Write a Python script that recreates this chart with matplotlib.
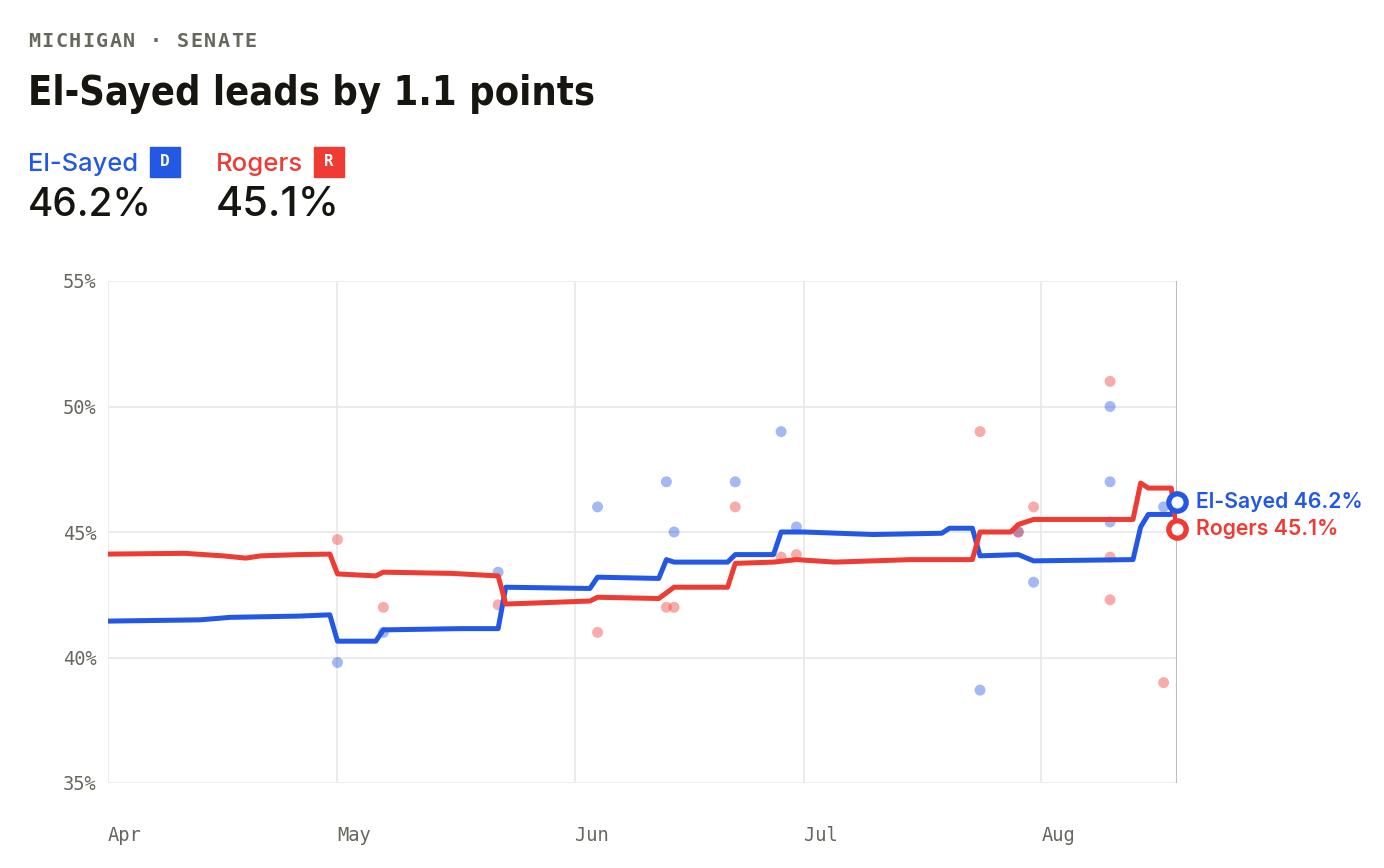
import matplotlib
matplotlib.use("Agg")
import matplotlib.pyplot as plt
import pandas as pd
from matplotlib import font_manager
from matplotlib.font_manager import FontProperties
from matplotlib.patches import Rectangle

# ---------------- data ----------------
state_label = "MICHIGAN · SENATE"
title = "El-Sayed leads by 1.1 points"
cand_names = ["El-Sayed", "Rogers"]
cand_party = ["D", "R"]
cand_final = [46.2, 45.1]

blue_dates = ["2026-04-01", "2026-04-13", "2026-04-17", "2026-04-26", "2026-04-30",
              "2026-05-01", "2026-05-06", "2026-05-07", "2026-05-17", "2026-05-22",
              "2026-05-23", "2026-06-03", "2026-06-04", "2026-06-12", "2026-06-13",
              "2026-06-14", "2026-06-21", "2026-06-22", "2026-06-27", "2026-06-28",
              "2026-07-01", "2026-07-10", "2026-07-19", "2026-07-20", "2026-07-23",
              "2026-07-24", "2026-07-29", "2026-07-31", "2026-08-13", "2026-08-14",
              "2026-08-15", "2026-08-18 00:00", "2026-08-18 18:00"]
blue_vals = [41.45, 41.5, 41.6, 41.65, 41.7,
             40.65, 40.65, 41.1, 41.15, 41.15,
             42.8, 42.75, 43.2, 43.15, 43.9,
             43.8, 43.8, 44.1, 44.1, 45.0,
             45.0, 44.9, 44.95, 45.15, 45.15,
             44.05, 44.1, 43.85, 43.9, 45.2,
             45.7, 45.7, 46.2]

red_dates = ["2026-04-01", "2026-04-11", "2026-04-16", "2026-04-19", "2026-04-21",
             "2026-04-26", "2026-04-30", "2026-05-01", "2026-05-06", "2026-05-07",
             "2026-05-16", "2026-05-22", "2026-05-23", "2026-06-03", "2026-06-04",
             "2026-06-12", "2026-06-14", "2026-06-21", "2026-06-22", "2026-06-27",
             "2026-06-30", "2026-07-05", "2026-07-15", "2026-07-23", "2026-07-24",
             "2026-07-28", "2026-07-29", "2026-07-31", "2026-08-13", "2026-08-14",
             "2026-08-15", "2026-08-18 00:00", "2026-08-18 18:00"]
red_vals = [44.12, 44.15, 44.05, 43.96, 44.05,
            44.1, 44.12, 43.33, 43.25, 43.4,
            43.35, 43.25, 42.13, 42.25, 42.4,
            42.35, 42.8, 42.8, 43.75, 43.8,
            43.9, 43.8, 43.9, 43.9, 45.0,
            45.0, 45.3, 45.5, 45.5, 46.95,
            46.75, 46.75, 45.1]

blue_poll_dates = ["2026-05-01", "2026-05-07", "2026-05-22", "2026-06-04", "2026-06-13",
                   "2026-06-14", "2026-06-22", "2026-06-28", "2026-06-30", "2026-07-24",
                   "2026-07-29", "2026-07-31", "2026-08-10", "2026-08-10", "2026-08-10",
                   "2026-08-17"]
blue_poll_vals = [39.8, 41.0, 43.4, 46.0, 47.0,
                  45.0, 47.0, 49.0, 45.2, 38.7,
                  45.0, 43.0, 50.0, 47.0, 45.4,
                  46.0]
red_poll_dates = ["2026-05-01", "2026-05-07", "2026-05-22", "2026-06-04", "2026-06-13",
                  "2026-06-14", "2026-06-22", "2026-06-28", "2026-06-30", "2026-07-24",
                  "2026-07-29", "2026-07-31", "2026-08-10", "2026-08-10", "2026-08-10",
                  "2026-08-17"]
red_poll_vals = [44.7, 42.0, 42.1, 41.0, 42.0,
                 42.0, 46.0, 44.0, 44.1, 49.0,
                 45.0, 46.0, 51.0, 44.0, 42.3,
                 39.0]

month_ticks = ["2026-04-01", "2026-05-01", "2026-06-01", "2026-07-01", "2026-08-01"]
month_labels = ["Apr", "May", "Jun", "Jul", "Aug"]
y_ticks = [35, 40, 45, 50, 55]

# ---------------- fonts ----------------
ttf = font_manager.fontManager.ttflist
names = {f.name for f in ttf}
SANS = 'Inter' if 'Inter' in names else ('Roboto' if 'Roboto' in names else 'DejaVu Sans')
MONO = 'DejaVu Sans Mono'


def _is_cond(f):
    n = (f.name + " " + f.fname).lower()
    return ("narrow" in n or "condensed" in n or
            str(f.stretch) in ("condensed", "semi-condensed", "extra-condensed"))


def _wnum(w):
    if isinstance(w, (int, float)):
        return w
    return {"bold": 700, "heavy": 800, "black": 900, "semibold": 600,
            "demibold": 600}.get(str(w).lower(), 400)


conds = [f for f in ttf if _is_cond(f) and "italic" not in f.fname.lower()
         and "oblique" not in f.fname.lower()]
conds.sort(key=lambda f: (abs(_wnum(f.weight) - 700),
                          0 if "liberation" in f.fname.lower() else 1))
if conds:
    TITLE_FP = FontProperties(fname=conds[0].fname)
else:
    TITLE_FP = FontProperties(family="Roboto", weight="bold")

# ---------------- style ----------------
BLUE = "#2358E6"
RED = "#EE3B33"
INK = "#161510"
GRAY = "#67665f"
GRID = "#e9e9e9"

W, H = 1384, 868
fig = plt.figure(figsize=(W / 100, H / 100), dpi=100)
fig.patch.set_facecolor("white")
renderer = fig.canvas.get_renderer()


def fx(px):
    return px / W


def fy(py):
    return 1 - py / H


def todt(seq):
    return pd.to_datetime(seq, format="mixed")


def fit_text(x, y, s, width_px, size0, **kw):
    t = fig.text(fx(x), fy(y), s, fontsize=size0, **kw)
    w = t.get_window_extent(renderer=renderer).width
    if w > 0:
        t.set_fontsize(size0 * width_px / w)
    return t


ax = fig.add_axes([fx(108), fy(783), fx(1177) - fx(108), fy(281) - fy(783)])
ax.set_facecolor("white")

bd = todt(blue_dates)
rd = todt(red_dates)
x_end = pd.Timestamp("2026-08-18 18:00")

ax.scatter(todt(blue_poll_dates), blue_poll_vals, s=62, color=BLUE, alpha=0.42,
           edgecolors="none", zorder=2)
ax.scatter(todt(red_poll_dates), red_poll_vals, s=62, color=RED, alpha=0.42,
           edgecolors="none", zorder=2)

ax.plot(bd, blue_vals, color=BLUE, lw=3.6, solid_joinstyle="round",
        solid_capstyle="round", zorder=3)
ax.plot(rd, red_vals, color=RED, lw=3.6, solid_joinstyle="round",
        solid_capstyle="round", zorder=4)

ax.plot([bd[-1]], [blue_vals[-1]], marker="o", ms=12.5, mfc="white", mec=BLUE, mew=3.8,
        zorder=6, clip_on=False)
ax.plot([rd[-1]], [red_vals[-1]], marker="o", ms=12.5, mfc="white", mec=RED, mew=3.8,
        zorder=6, clip_on=False)

# end labels sized so the El-Sayed label spans ~167 px
probe = fig.text(0, 0, f"{cand_names[0]} {cand_final[0]}%", fontsize=15,
                 fontfamily=SANS, fontweight="semibold")
pw = probe.get_window_extent(renderer=renderer).width
probe.remove()
end_size = 15 * 167 / pw if pw > 0 else 15
for name, val, d, y, c in [(cand_names[0], cand_final[0], bd[-1], blue_vals[-1], BLUE),
                           (cand_names[1], cand_final[1], rd[-1], red_vals[-1], RED)]:
    ax.annotate(f"{name} {val}%", (d, y), xytext=(14, 0), textcoords="offset points",
                color=c, fontsize=end_size, fontfamily=SANS, fontweight="semibold",
                va="center", ha="left", annotation_clip=False)

ax.set_xlim(pd.Timestamp("2026-04-01"), x_end)
ax.set_ylim(35, 55)

ax.set_yticks(y_ticks)
ax.set_yticklabels([f"{v}%" for v in y_ticks])
mt = todt(month_ticks)
ax.set_xticks(mt)
ax.set_xticklabels(month_labels)

for v in y_ticks:
    ax.axhline(v, color=GRID, lw=1.3, zorder=0)
for d in mt:
    ax.axvline(d, color=GRID, lw=1.3, zorder=0)
ax.axvline(x_end, color="#bdbdbd", lw=1.5, zorder=1)

for s in ax.spines.values():
    s.set_visible(False)
ax.tick_params(axis="both", length=0, colors=GRAY, labelsize=13.5)
ax.tick_params(axis="y", pad=8)
ax.tick_params(axis="x", pad=31)
for lab in ax.get_xticklabels() + ax.get_yticklabels():
    lab.set_fontfamily(MONO)
for lab in ax.get_xticklabels():
    lab.set_horizontalalignment("left")

# ---------------- header ----------------
# letter-spaced monospace kicker, one glyph per fixed step
step = 13.55
for i, ch in enumerate(state_label):
    if ch != " ":
        fig.text(fx(28 + i * step), fy(47), ch, fontsize=14.5, fontfamily=MONO, color=GRAY,
                 fontweight="bold", va="baseline", ha="left")

fit_text(28, 105, title, 568, 36, fontproperties=TITLE_FP, color=INK,
         va="baseline", ha="left")

xs = [28, 216]
badge_x = [150, 314]
name_w = [110, 87]
num_w = [124, 124]
cols = [BLUE, RED]
for i in range(2):
    fit_text(xs[i], 171, cand_names[i], name_w[i], 17, fontfamily=SANS,
             fontweight="medium", color=cols[i], va="baseline", ha="left")
    fig.patches.append(Rectangle((fx(badge_x[i]), fy(177)), 30 / W, 30 / H,
                                 transform=fig.transFigure, color=cols[i], zorder=1))
    fig.text(fx(badge_x[i] + 15), fy(162), cand_party[i], fontsize=11.5, fontfamily=MONO,
             fontweight="bold", color="white", va="center", ha="center", zorder=2)
    fit_text(xs[i], 216, f"{cand_final[i]}%", num_w[i], 29, fontfamily=SANS,
             fontweight="medium", color=INK, va="baseline", ha="left")

fig.savefig("out.png", dpi=100, facecolor="white")
